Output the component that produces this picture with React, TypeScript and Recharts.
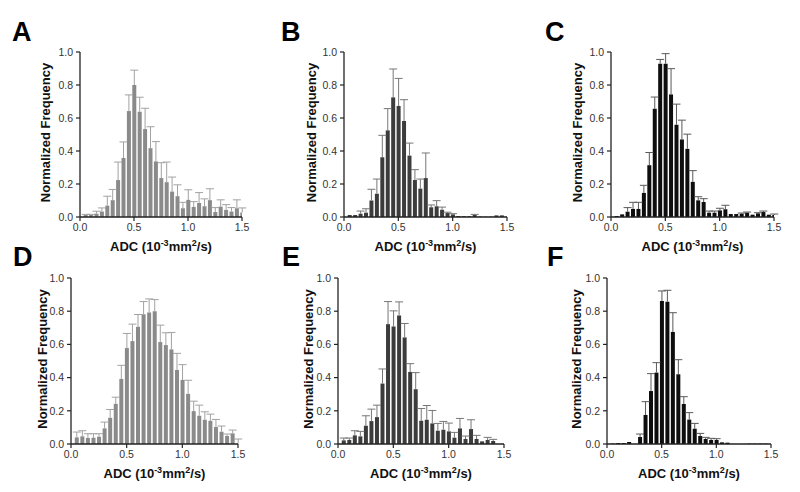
import React from 'react';
import { BarChart, Bar, XAxis, YAxis, ErrorBar } from 'recharts';

// ---------- data ----------
const bins = [0.05, 0.1, 0.15, 0.2, 0.25, 0.3, 0.35, 0.4, 0.45, 0.5, 0.55, 0.6, 0.65, 0.7, 0.75,
  0.8, 0.85, 0.9, 0.95, 1.0, 1.05, 1.1, 1.15, 1.2, 1.25, 1.3, 1.35, 1.4, 1.45, 1.5];

const valuesA = [0.012, 0.012, 0.02, 0.033, 0.069, 0.102, 0.224, 0.358, 0.642, 0.8, 0.638, 0.533, 0.417, 0.337, 0.236,
  0.211, 0.154, 0.126, 0.053, 0.104, 0.061, 0.085, 0.065, 0.102, 0.03, 0.063, 0.043, 0.033, 0.053, 0.028];
const errorsA = [0.004, 0.004, 0.015, 0.022, 0.057, 0.065, 0.109, 0.097, 0.098, 0.09, 0.088, 0.126, 0.13, 0.12, 0.093,
  0.122, 0.088, 0.069, 0.036, 0.061, 0.032, 0.063, 0.045, 0.069, 0.027, 0.041, 0.032, 0.024, 0.051, 0.027];

const valuesB = [0.012, 0.012, 0.02, 0.026, 0.1, 0.141, 0.362, 0.525, 0.725, 0.673, 0.582, 0.372, 0.224, 0.172, 0.236,
  0.059, 0.065, 0.044, 0.024, 0.016, 0.006, 0.005, 0.005, 0.012, 0.003, 0.002, 0.002, 0.01, 0.01, 0.002];
const errorsB = [0, 0, 0.016, 0.024, 0.068, 0.089, 0.133, 0.132, 0.172, 0.167, 0.129, 0.076, 0.063, 0.058, 0.152,
  0.014, 0.034, 0.016, 0.005, 0.004, 0, 0, 0, 0.004, 0, 0, 0, 0, 0, 0];

const valuesC = [0.006, 0.016, 0.032, 0.049, 0.049, 0.146, 0.314, 0.656, 0.929, 0.929, 0.743, 0.559, 0.47, 0.413, 0.213,
  0.101, 0.091, 0.026, 0.026, 0.04, 0.047, 0.018, 0.018, 0.02, 0.026, 0.014, 0.022, 0.03, 0.014, 0.012];
const errorsC = [0, 0, 0.025, 0.04, 0.04, 0.046, 0.077, 0.071, 0.026, 0.061, 0.156, 0.125, 0.117, 0.089, 0.068,
  0.022, 0.02, 0.01, 0.01, 0.013, 0.024, 0, 0, 0.004, 0.004, 0, 0.004, 0.006, 0, 0.006];

const valuesD = [0.04, 0.046, 0.036, 0.038, 0.044, 0.094, 0.158, 0.242, 0.392, 0.578, 0.62, 0.706, 0.782, 0.792, 0.8,
  0.614, 0.596, 0.57, 0.446, 0.386, 0.302, 0.198, 0.17, 0.146, 0.14, 0.102, 0.074, 0.048, 0.064, 0.002];
const errorsD = [0.032, 0.034, 0.026, 0.024, 0.018, 0.038, 0.05, 0.04, 0.082, 0.088, 0.102, 0.074, 0.076, 0.082, 0.07,
  0.102, 0.074, 0.102, 0.1, 0.092, 0.082, 0.06, 0.064, 0.048, 0.04, 0.046, 0.034, 0.012, 0.02, 0.028];

const valuesE = [0.022, 0.024, 0.052, 0.046, 0.11, 0.138, 0.162, 0.364, 0.722, 0.708, 0.774, 0.642, 0.434, 0.33,
  0.14, 0.146, 0.124, 0.08, 0.086, 0.076, 0.038, 0.094, 0.03, 0.09, 0.03, 0.016, 0.024, 0.018];
const errorsE = [0.014, 0.012, 0.028, 0.03, 0.06, 0.072, 0.072, 0.088, 0.136, 0.094, 0.082, 0.084, 0.05, 0.1,
  0.074, 0.086, 0.078, 0.044, 0.05, 0.05, 0.032, 0.06, 0.018, 0.056, 0.022, 0, 0.016, 0.01];

const valuesF = [0.002, 0.006, 0.006, 0.012, 0, 0.042, 0.175, 0.319, 0.43, 0.861, 0.857, 0.675, 0.42, 0.241, 0.147,
  0.092, 0.048, 0.03, 0.024, 0.024, 0.01, 0.008, 0, 0, 0, 0.002, 0.002, 0.002, 0.002, 0];
const errorsF = [0, 0, 0, 0, 0, 0.018, 0.08, 0.105, 0.06, 0.061, 0.069, 0.116, 0.088, 0.044, 0.042,
  0.032, 0.016, 0.01, 0.01, 0.008, 0, 0, 0, 0, 0, 0, 0, 0, 0, 0];

const xTicks = [0, 0.5, 1.0, 1.5];
const yTicks = [0, 0.2, 0.4, 0.6, 0.8, 1.0];
const panelLetters = ['A', 'B', 'C', 'D', 'E', 'F'];
const yTitle = 'Normalized Frequency';

// ---------- layout / style ----------
const FONT = '"Liberation Sans", Arial, Helvetica, sans-serif';
const GREY = '#8a8a8a';
const DARK = '#3c3c3c';
const BLACK = '#0e0e0e';

const panels = [
  { values: valuesA, errors: errorsA, px: 80, py: 52, pw: 162, ph: 165, lx: 12, ly: 41, fill: GREY, err: '#a2a2a2', yto: 35 },
  { values: valuesB, errors: errorsB, px: 344, py: 52, pw: 163, ph: 165, lx: 281, ly: 41, fill: DARK, err: '#777777', yto: 33 },
  { values: valuesC, errors: errorsC, px: 611, py: 52, pw: 163, ph: 165, lx: 545, ly: 41, fill: BLACK, err: '#5a5a5a', yto: 34 },
  { values: valuesD, errors: errorsD, px: 71, py: 278, pw: 167, ph: 166, lx: 13, ly: 266, fill: GREY, err: '#a2a2a2', yto: 29 },
  { values: valuesE, errors: errorsE, px: 338, py: 278, pw: 166, ph: 166, lx: 282, ly: 266, fill: DARK, err: '#777777', yto: 30 },
  { values: valuesF, errors: errorsF, px: 607, py: 278, pw: 164, ph: 166, lx: 547, ly: 266, fill: BLACK, err: '#5a5a5a', yto: 31 },
];

const YAW = 75; // y axis width
const MT = 10; // top margin
const MR = 20;
const XAH = 45;

function buildRows(values: number[], errors: number[]) {
  return values.map((v, i) => ({
    adc: bins[i],
    freq: v,
    err: errors[i] > 0 ? [0, errors[i]] : null,
  }));
}

function Panel({ p }: { p: any }) {
  const data = buildRows(p.values, p.errors);
  const width = p.pw + YAW + MR;
  const height = p.ph + MT + XAH;
  const cx = YAW + p.pw / 2;
  const xTitleY = MT + p.ph + 34;
  const yTitleX = YAW - p.yto;
  const yTitleY = MT + p.ph / 2 - 2;
  return (
    <div style={{ position: 'absolute', left: p.px - YAW, top: p.py - MT }}>
      <BarChart width={width} height={height} data={data} margin={{ top: MT, right: MR, bottom: 0, left: 0 }}>
        <XAxis
          dataKey="adc"
          type="number"
          domain={[0, 1.5]}
          ticks={xTicks}
          interval={0}
          allowDataOverflow
          height={XAH}
          tickFormatter={(v: number) => v.toFixed(1)}
          tick={{ fontSize: 10.5, fill: '#333', fontFamily: FONT }}
          tickSize={4}
          tickMargin={3}
          axisLine={{ stroke: '#222', strokeWidth: 1.3 }}
          tickLine={{ stroke: '#222', strokeWidth: 1.2 }}
          label={{
            content: () => (
              <text x={cx} y={xTitleY} textAnchor="middle" fontFamily={FONT} fontWeight="bold" fontSize={13} fill="#111">
                ADC (10<tspan dy={-5} fontSize={9}>-3</tspan>
                <tspan dy={5}>mm</tspan>
                <tspan dy={-5} fontSize={9}>2</tspan>
                <tspan dy={5}>/s)</tspan>
              </text>
            ),
          }}
        />
        <YAxis
          type="number"
          domain={[0, 1]}
          ticks={yTicks}
          interval={0}
          allowDataOverflow
          width={YAW}
          tickFormatter={(v: number) => v.toFixed(1)}
          tick={{ fontSize: 10.5, fill: '#333', fontFamily: FONT }}
          tickSize={4}
          tickMargin={3}
          axisLine={{ stroke: '#222', strokeWidth: 1.3 }}
          tickLine={{ stroke: '#222', strokeWidth: 1.2 }}
          label={{
            content: () => (
              <text
                x={yTitleX}
                y={yTitleY}
                transform={`rotate(-90 ${yTitleX} ${yTitleY})`}
                textAnchor="middle"
                dominantBaseline="central"
                fontFamily={FONT}
                fontWeight="bold"
                fontSize={13}
                fill="#111"
              >
                {yTitle}
              </text>
            ),
          }}
        />
        <Bar dataKey="freq" fill={p.fill} barSize={4} isAnimationActive={false}>
          <ErrorBar dataKey="err" width={4} stroke={p.err} strokeWidth={1} direction="y" />
        </Bar>
      </BarChart>
    </div>
  );
}

export default function App() {
  return (
    <div style={{ position: 'absolute', left: 0, top: 0, width: 800, height: 492, background: '#fff', overflow: 'hidden' }}>
      <style>{'.recharts-errorBar line:nth-of-type(3){display:none;}'}</style>
      {panels.map((p, i) => (
        <Panel key={i} p={p} />
      ))}
      <svg width={800} height={492} style={{ position: 'absolute', left: 0, top: 0, pointerEvents: 'none' }}>
        {panels.map((p, i) => (
          <text key={i} x={p.lx} y={p.ly} fontFamily={FONT} fontWeight="bold" fontSize={27} fill="#000">
            {panelLetters[i]}
          </text>
        ))}
      </svg>
    </div>
  );
}
